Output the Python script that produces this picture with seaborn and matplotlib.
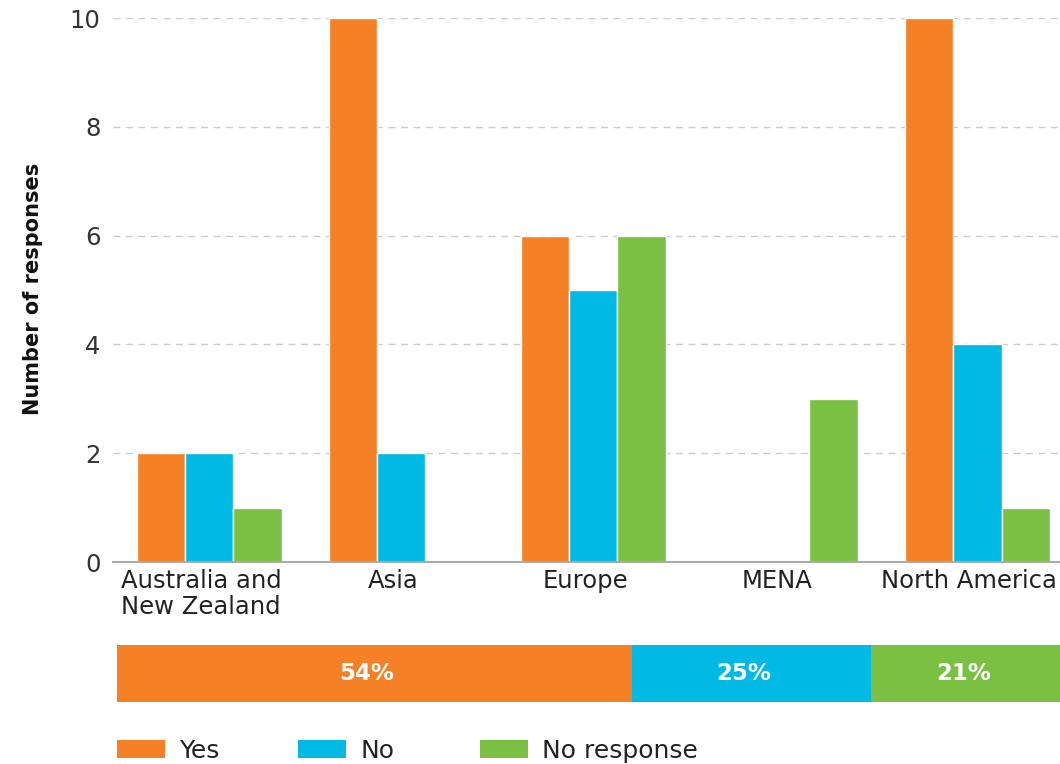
import matplotlib
matplotlib.use("Agg")
import matplotlib.pyplot as plt
import matplotlib.transforms as mtransforms
import seaborn as sns
import pandas as pd
import numpy as np
from matplotlib.patches import Patch

regions = ["Australia and\nNew Zealand", "Asia", "Europe", "MENA", "North America"]
series = ["Yes", "No", "No response"]
yes_vals = [2, 10, 6, 0, 10]
no_vals = [2, 2, 5, 0, 4]
noresp_vals = [1, 0, 6, 3, 1]
share_pct = [54, 25, 21]
share_labels = ["54%", "25%", "21%"]
colors = ["#F58025", "#00B9E4", "#7AC143"]
yticks = [0, 2, 4, 6, 8, 10]

sns.set_theme(style="white")
plt.rcParams['font.family'] = ['DejaVu Sans']
NARROW = ["Liberation Sans Narrow", "DejaVu Sans Condensed", "DejaVu Sans"]

df = pd.DataFrame({
    "Region": regions * 3,
    "Response": [s for s in series for _ in regions],
    "Count": yes_vals + no_vals + noresp_vals,
})

W, H = 1060, 764
fig = plt.figure(figsize=(W / 100, H / 100), dpi=100)
ax = fig.add_axes([113 / W, 1 - 562 / H, 1 - 113 / W, (562 - 18) / H])

sns.barplot(data=df, x="Region", y="Count", hue="Response", order=regions,
            hue_order=series, palette=colors, width=0.755, edgecolor="white",
            linewidth=1.0, saturation=1, legend=False, ax=ax, zorder=3)

ax.set_xlim(-0.5, 4.43)
ax.set_ylim(0, 10)
ax.set_yticks(yticks)
ax.set_yticklabels([str(t) for t in yticks])
ax.yaxis.grid(True, linestyle=(0, (5, 4)), color="#cccccc", linewidth=1.0, zorder=0)
ax.xaxis.grid(False)
for s in ["left", "right", "top"]:
    ax.spines[s].set_visible(False)
ax.spines["bottom"].set_color("#aaaaaa")
ax.spines["bottom"].set_linewidth(1.5)
ax.spines["bottom"].set_zorder(4)
ax.tick_params(axis="y", length=0, pad=9, labelsize=17.5, labelcolor="#333333")
ax.tick_params(axis="x", length=0, pad=5, labelsize=17.5, labelcolor="#222222")
shift = mtransforms.ScaledTranslation(-8 / 100, 0, fig.dpi_scale_trans)
for lab in ax.get_xticklabels():
    lab.set_transform(lab.get_transform() + shift)
    lab.set_linespacing(1.1)
ax.set_xlabel("")
ax.set_ylabel("Number of responses", fontsize=15, fontweight="bold",
              family=NARROW, color="#111111")
ax.yaxis.set_label_coords(43 / W, 1 - 289 / H, transform=fig.transFigure)

# stacked share bar
ax2 = fig.add_axes([117 / W, 1 - 702 / H, (1071 - 117) / W, (702 - 645) / H])
lefts = np.concatenate([[0], np.cumsum(share_pct)[:-1]])
ax2.barh([0] * 3, share_pct, left=lefts, color=colors, height=1.0, edgecolor="none")
for l, w, t in zip(lefts, share_pct, share_labels):
    ax2.text(l + w / 2 - 0.8, 0, t, ha="center", va="center", color="white",
             fontsize=16.5, fontweight="bold")
ax2.set_xlim(0, 100)
ax2.set_ylim(-0.5, 0.5)
ax2.axis("off")

# legend: one entry per legend so each sits at its own x position
leg_x = [117, 298, 480]
for c, name, x in zip(colors, series, leg_x):
    lg = fig.legend([Patch(facecolor=c, edgecolor="none")], [name], loc="center left",
                    bbox_to_anchor=(x / W, 1 - 751 / H), frameon=False,
                    handlelength=1.9, handleheight=0.72, handletextpad=0.6,
                    borderaxespad=0, borderpad=0,
                    prop={"family": NARROW, "size": 18})
    for txt in lg.get_texts():
        txt.set_color("#222222")

fig.savefig("out.png", dpi=100)
